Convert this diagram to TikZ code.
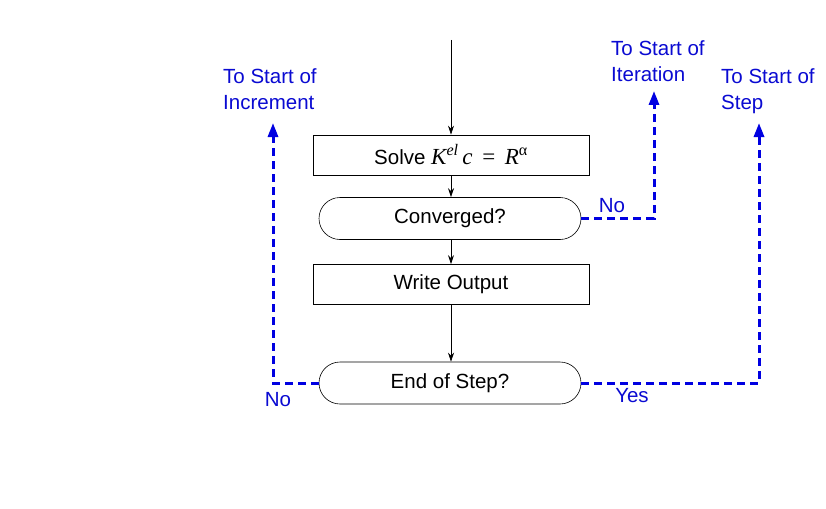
\documentclass[tikz,border=0pt]{standalone}
\usepackage{fontspec}
\setmainfont{Liberation Sans}
\newfontfamily\serifit{Liberation Serif}
\usetikzlibrary{arrows.meta}
\definecolor{lblue}{RGB}{0,0,225}
\definecolor{tblue}{RGB}{10,10,210}
\tikzset{
  boxnode/.style={draw, line width=0.8pt, minimum width=276pt, minimum height=40pt, inner sep=0pt, font=\fontsize{20.5}{23}\selectfont},
  roundnode/.style={draw, line width=0.6pt, rounded corners=21pt, minimum width=262pt, minimum height=42pt, inner sep=0pt, font=\fontsize{20.5}{23}\selectfont},
  flow/.style={draw, line width=0.7pt, -{Stealth[length=9pt,width=6pt]}},
  loop/.style={draw=lblue, line width=3pt, dash pattern=on 8pt off 5pt, -{Triangle[length=14pt,width=10pt]}},
  bluetext/.style={text=tblue, font=\fontsize{20.5}{26}\selectfont, inner sep=0pt, align=left},
}
\begin{document}
\begin{tikzpicture}[x=1pt,y=-1pt]
\useasboundingbox[fill=white] (0,0) rectangle (826,508);
\coordinate (top) at (451,40);
\node[boxnode] (solve) at (451,155) {Solve {\serifit\itshape\fontsize{23}{24}\selectfont K\textsuperscript{el}\,c\, {\upshape=}\, R\textsuperscript{\upshape α}}};
\node[roundnode] (conv) at (450,218.5) {Converged?};
\node[boxnode] (write) at (451,284.5) {Write Output};
\node[roundnode] (end) at (450,383) {End of Step?};

\draw[flow] (top) -- (solve.north);
\draw[flow] (solve.south) -- (conv.north -| solve.south);
\draw[flow] (conv.south -| write.north) -- (write.north);
\draw[flow] (write.south) -- (end.north -| write.south);

\coordinate (itertip) at (654,91);
\coordinate (steptip) at (759,123);
\coordinate (incrtip) at (273,123);

\draw[loop] (conv.east) -| (itertip);
\draw[loop] (end.east) -| (steptip);
\draw[loop] (end.west) -| (incrtip);

\node[bluetext, anchor=north west] (itertext) at (611,40) {To Start of\\Iteration};
\node[bluetext, anchor=north west] (steptext) at (721,68) {To Start of\\Step};
\node[bluetext, anchor=north west] (incrtext) at (223,68) {To Start of\\Increment};

\node[bluetext, anchor=center] (no1) at (612,206) {No};
\node[bluetext, anchor=center] (yes) at (632,396) {Yes};
\node[bluetext, anchor=center] (no2) at (278,400) {No};
\end{tikzpicture}
\end{document}
